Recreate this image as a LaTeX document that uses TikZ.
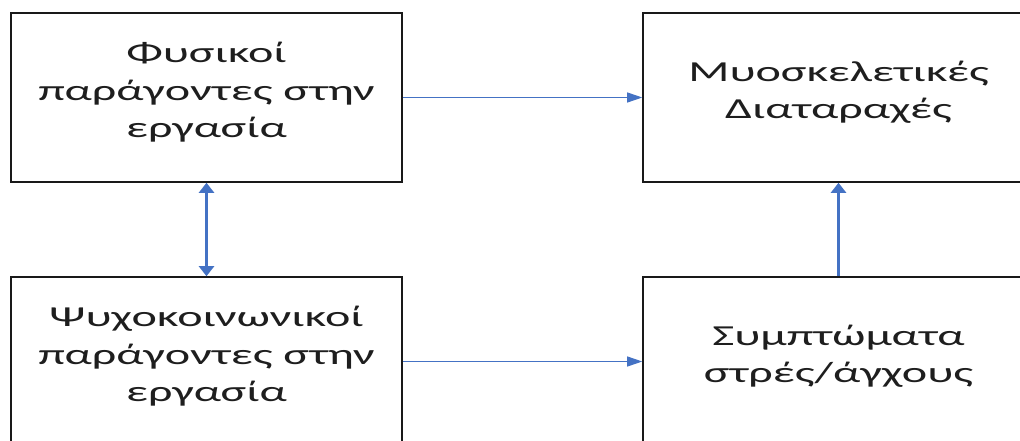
\documentclass[tikz,border=0pt]{standalone}
\usepackage{fontspec}
\newfontfamily\boxfont[FakeStretch=1.66]{Carlito}
\usetikzlibrary{arrows.meta}
\definecolor{linkblue}{HTML}{4472C4}
\definecolor{boxtext}{HTML}{1E1E1E}
\tikzset{
  factor/.style={draw=black!90, line width=1.6pt, fill=white,
    minimum width=391pt, minimum height=169pt, inner sep=0pt,
    align=center, text=boxtext, text depth=15pt,
    font=\boxfont\fontsize{29}{37.5}\selectfont},
  link/.style={draw=linkblue, line width=1pt,
    -{Triangle[length=15pt,width=10pt]}},
  thicklink/.style={draw=linkblue, line width=2.4pt,
    {Triangle[length=10pt,width=15pt]}-{Triangle[length=10pt,width=15pt]}},
  uplink/.style={draw=linkblue, line width=2.4pt,
    -{Triangle[length=10pt,width=15pt]}}
}
\begin{document}
\begin{tikzpicture}[x=1pt,y=-1pt]
  \path[use as bounding box, clip] (0,0) rectangle (1020,441);
  \fill[white] (0,0) rectangle (1020,441);

  % the four factor boxes (right and lower ones run past the frame)
  \node[factor] (phys) at (206.5,97.5) {Φυσικοί\\παράγοντες στην\\εργασία};
  \node[factor] (msd)  at (838.5,97.5) {Μυοσκελετικές\\Διαταραχές};
  \node[factor] (psy)  at (206.5,361.5) {Ψυχοκοινωνικοί\\παράγοντες στην\\εργασία};
  \node[factor] (str)  at (838.5,361.5) {Συμπτώματα\\στρές/άγχους};

  % connectors
  \draw[link] (phys.east) -- (msd.west);
  \draw[link] (psy.east) -- (str.west);
  \draw[thicklink] (phys.south) -- (psy.north);
  \draw[uplink] (str.north) -- (msd.south);
\end{tikzpicture}
\end{document}
